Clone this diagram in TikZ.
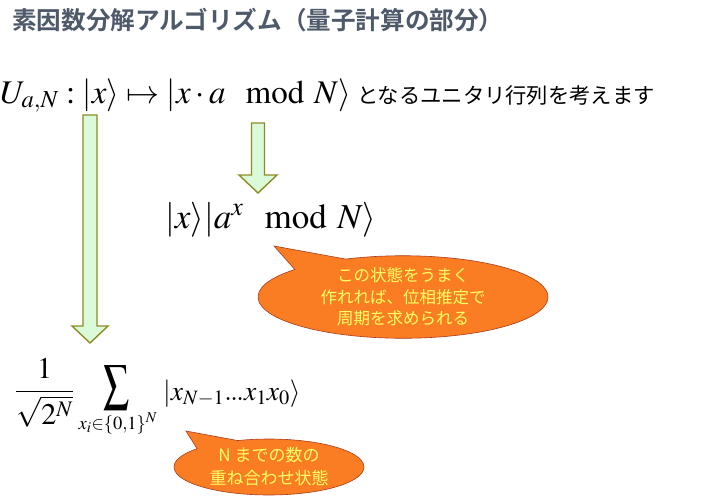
\documentclass[tikz,border=0pt]{standalone}
\usepackage{mathptmx}
\usepackage{amsmath}
\usepackage[no-math]{fontspec}
\newfontfamily\jpsans[BoldFont={Noto Sans CJK JP Bold}]{Noto Sans CJK JP}
\definecolor{titlegray}{RGB}{78, 90, 106}
\definecolor{arrowgreen}{RGB}{218, 250, 218}
\definecolor{arrowolive}{RGB}{140, 140, 35}
\definecolor{bubbleorange}{RGB}{250, 125, 35}
\definecolor{bubbleedge}{RGB}{170, 60, 30}
\definecolor{bubbletext}{RGB}{255, 255, 100}
\usetikzlibrary{shapes.callouts, positioning}

\begin{document}
\begin{tikzpicture}[x=1pt, y=-1pt,
  blockarrow/.style={draw=arrowolive, fill=arrowgreen, line width=1.4pt, line join=miter},
  mathline/.style={anchor=base west, inner sep=0pt, font=\fontsize{33}{40}\selectfont},
  bubble/.style={ellipse callout, draw=bubbleedge, fill=bubbleorange, line width=0.6pt, text=bubbletext, align=center, inner sep=0pt}]
  \useasboundingbox (0,0) rectangle (726,496);

  % Title
  \node[font=\jpsans\bfseries\fontsize{24.6}{29}\selectfont, text=titlegray, anchor=west, inner sep=0pt] (title) at (12, 20) {素因数分解アルゴリズム（量子計算の部分）};

  % Unitary operator
  \node[mathline] (unitary) at (0, 103) {$U_{a,N} : |x\rangle \mapsto |x\cdot a\ \ \mathrm{mod}\ N\rangle$};
  \node[anchor=base west, inner sep=0pt, font=\jpsans\fontsize{21.3}{25}\selectfont] (unitarytext) at (357, 103) {となるユニタリ行列を考えます};

  % Modular exponentiation state
  \node[mathline, font=\fontsize{35}{42}\selectfont] (modexp) at (165, 228) {$|x\rangle|a^x\ \ \mathrm{mod}\ N\rangle$};

  % Uniform superposition
  \node[anchor=base west, inner sep=0pt, font=\fontsize{30}{36}\selectfont] (norm) at (15, 399) {$\displaystyle\frac{1}{\sqrt{2^N}}$};
  \node[inner sep=0pt, font=\fontsize{30}{36}\selectfont] (sumsym) at (117, 388) {\scalebox{0.85}[1.2]{$\displaystyle\sum$}};
  \node[anchor=base, inner sep=0pt, font=\fontsize{25}{30}\selectfont] (sumidx) at (118, 429) {$\scriptstyle x_i\in\{0,1\}^N$};
  \node[anchor=base west, inner sep=0pt, font=\fontsize{27.5}{33}\selectfont] (basis) at (163, 400) {$|x_{N-1}{.\mkern-1mu.\mkern-1mu.}x_1x_0\rangle$};

  % Block arrows
  \draw[blockarrow] (83,115) -- (97,115) -- (97,326) -- (108,326) -- (90,343) -- (72,326) -- (83,326) -- cycle;
  \draw[blockarrow] (251.5,123) -- (264.5,123) -- (264.5,175) -- (277,175) -- (258,193) -- (239,175) -- (251.5,175) -- cycle;

  % Callouts
  \coordinate (periodtip) at (274, 246);
  \node[bubble, minimum width=290pt, minimum height=80pt, callout absolute pointer=(periodtip), callout pointer arc=25, font=\jpsans\fontsize{16.5}{21.5}\selectfont] (periodnote) at (403, 297) {この状態をうまく\\作れれば、位相推定で\\周期を求められる};
  \coordinate (superpostip) at (186, 431);
  \node[bubble, minimum width=190pt, minimum height=56pt, callout absolute pointer=(superpostip), callout pointer arc=30, font=\jpsans\fontsize{17}{23}\selectfont] (superposnote) at (269, 467) {N までの数の\\重ね合わせ状態};
\end{tikzpicture}
\end{document}
